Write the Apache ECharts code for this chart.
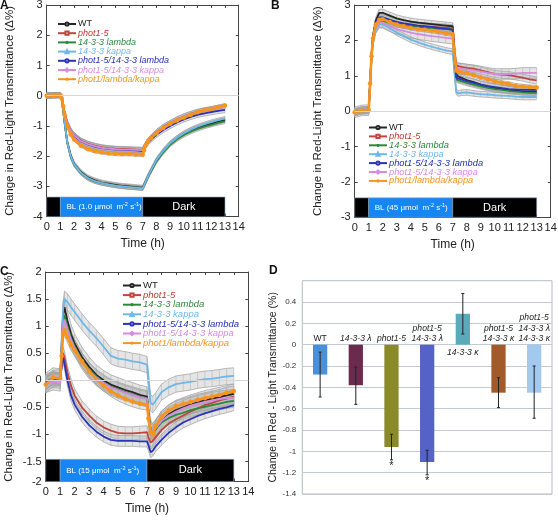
<!DOCTYPE html>
<html><head><meta charset="utf-8">
<script src="https://cdn.jsdelivr.net/npm/echarts@6/dist/echarts.min.js"></script>
<style>html,body{margin:0;padding:0;background:#fff}#c{width:558px;height:524px}</style>
</head><body><div id="c"></div>
<script>
// ---------- DATA ----------
const T = [0,0.5,1.0,1.1,1.2,1.3,1.5,1.75,2,2.5,3,3.5,4,4.5,5,5.5,6,6.5,7.0,7.1,7.25,7.4,7.6,8,8.5,9,9.5,10,10.5,11,11.5,12,12.5,13];
const seriesLabels = ['WT','phot1-5','14-3-3 lambda','14-3-3 kappa','phot1-5/14-3-3 lambda','phot1-5/14-3-3 kappa','phot1/lambda/kappa'];

// Panel A (BL 1.0)
const A_wt      = [0.00,0.02,0.02,-0.10,-0.45,-0.85,-1.52,-1.98,-2.25,-2.53,-2.70,-2.80,-2.87,-2.91,-2.95,-2.98,-3.00,-3.02,-3.04,-2.95,-2.80,-2.65,-2.48,-2.13,-1.83,-1.58,-1.40,-1.25,-1.14,-1.05,-0.98,-0.92,-0.86,-0.80];
const A_phot    = [0.00,0.01,0.02,-0.08,-0.30,-0.55,-0.90,-1.15,-1.30,-1.48,-1.58,-1.65,-1.70,-1.73,-1.75,-1.76,-1.77,-1.78,-1.79,-1.70,-1.58,-1.48,-1.38,-1.20,-1.03,-0.90,-0.78,-0.68,-0.60,-0.53,-0.48,-0.44,-0.40,-0.37];
const A_lam     = [0.00,0.02,0.02,-0.10,-0.47,-0.88,-1.56,-2.02,-2.28,-2.56,-2.73,-2.83,-2.89,-2.93,-2.97,-3.00,-3.02,-3.04,-3.06,-2.97,-2.82,-2.67,-2.50,-2.17,-1.87,-1.62,-1.44,-1.30,-1.19,-1.10,-1.02,-0.96,-0.90,-0.85];
const A_kap     = [0.05,0.02,0.02,-0.10,-0.46,-0.86,-1.54,-2.00,-2.26,-2.55,-2.72,-2.82,-2.88,-2.93,-2.97,-3.00,-3.02,-3.04,-3.06,-2.96,-2.81,-2.65,-2.47,-2.12,-1.82,-1.57,-1.39,-1.24,-1.12,-1.02,-0.94,-0.87,-0.81,-0.76];
const A_photLam = [0.00,0.01,0.02,-0.08,-0.31,-0.57,-0.93,-1.18,-1.33,-1.51,-1.61,-1.68,-1.73,-1.76,-1.78,-1.79,-1.80,-1.81,-1.83,-1.74,-1.63,-1.54,-1.45,-1.29,-1.13,-1.00,-0.88,-0.78,-0.70,-0.63,-0.58,-0.54,-0.50,-0.47];
const A_photKap = [0.00,0.01,0.02,-0.08,-0.30,-0.56,-0.91,-1.16,-1.31,-1.50,-1.60,-1.67,-1.72,-1.75,-1.77,-1.78,-1.78,-1.79,-1.80,-1.71,-1.59,-1.49,-1.39,-1.21,-1.04,-0.91,-0.79,-0.69,-0.61,-0.54,-0.49,-0.45,-0.41,-0.38];
const A_trip    = [0.00,0.01,0.02,-0.10,-0.35,-0.62,-1.00,-1.28,-1.45,-1.65,-1.76,-1.83,-1.87,-1.90,-1.92,-1.93,-1.93,-1.94,-1.95,-1.80,-1.62,-1.50,-1.40,-1.24,-1.07,-0.93,-0.82,-0.72,-0.63,-0.55,-0.48,-0.43,-0.37,-0.32];
const A_err = [0.08,0.08,0.07,0.07,0.09,0.09,0.06];
const A_yTicks = [-4,-3,-2,-1,0,1,2,3];
const A_yTickText = ['-4','-3','-2','-1','0','1','2','3'];

// Panel B (BL 45)
const B_wt      = [-0.03,0.02,0.03,0.80,1.60,2.10,2.55,2.78,2.78,2.70,2.62,2.57,2.53,2.50,2.48,2.46,2.44,2.42,2.40,1.80,1.05,0.98,0.95,0.88,0.82,0.75,0.70,0.66,0.63,0.60,0.58,0.56,0.55,0.55];
const B_phot    = [-0.03,0.02,0.03,0.78,1.55,2.05,2.45,2.62,2.62,2.55,2.50,2.46,2.43,2.41,2.39,2.38,2.37,2.36,2.34,1.90,1.30,1.27,1.25,1.22,1.20,1.15,1.10,1.05,1.03,1.02,0.98,0.95,0.90,0.87];
const B_lam     = [-0.03,0.02,0.03,0.78,1.52,2.00,2.40,2.55,2.55,2.50,2.45,2.42,2.40,2.38,2.36,2.35,2.33,2.32,2.30,1.60,0.90,0.87,0.85,0.80,0.75,0.70,0.66,0.62,0.60,0.57,0.55,0.53,0.52,0.52];
const B_kap     = [-0.03,0.02,0.03,0.75,1.45,1.95,2.30,2.45,2.45,2.35,2.22,2.12,2.02,1.95,1.88,1.82,1.77,1.72,1.68,1.20,0.55,0.50,0.52,0.53,0.50,0.48,0.47,0.45,0.44,0.43,0.41,0.40,0.40,0.40];
const B_photLam = [-0.03,0.02,0.03,0.80,1.58,2.08,2.50,2.65,2.65,2.58,2.52,2.48,2.45,2.42,2.40,2.38,2.35,2.33,2.30,1.65,0.95,0.92,0.90,0.85,0.80,0.75,0.71,0.68,0.65,0.62,0.61,0.60,0.60,0.60];
const B_photKap = [-0.03,0.02,0.03,0.76,1.50,1.98,2.35,2.50,2.50,2.40,2.32,2.27,2.22,2.18,2.15,2.12,2.10,2.07,2.05,1.65,1.22,1.20,1.20,1.18,1.15,1.12,1.08,1.05,1.05,1.05,1.06,1.08,1.08,1.08];
const B_trip    = [-0.03,0.02,0.03,0.78,1.55,2.05,2.45,2.58,2.60,2.52,2.45,2.40,2.35,2.32,2.30,2.27,2.24,2.20,2.17,1.70,1.15,1.12,1.10,1.08,1.02,0.95,0.90,0.85,0.80,0.77,0.72,0.70,0.68,0.67];
const B_err = [0.10,0.10,0.08,0.08,0.10,0.15,0.06];
const B_yTicks = [-3,-2,-1,0,1,2,3];
const B_yTickText = ['-3','-2','-1','0','1','2','3'];

// Panel C (BL 15)
const C_wt      = [-0.05,0.05,0.03,0.60,1.20,1.35,1.10,0.85,0.68,0.43,0.25,0.10,0.00,-0.08,-0.13,-0.18,-0.22,-0.27,-0.30,-0.60,-0.92,-0.98,-0.90,-0.75,-0.63,-0.55,-0.50,-0.45,-0.41,-0.37,-0.34,-0.31,-0.28,-0.25];
const C_phot    = [-0.05,0.04,0.02,0.30,0.50,0.42,0.15,-0.10,-0.28,-0.50,-0.65,-0.78,-0.87,-0.93,-0.97,-0.98,-0.98,-0.97,-0.96,-1.05,-1.15,-1.12,-1.05,-0.92,-0.80,-0.72,-0.65,-0.58,-0.52,-0.46,-0.42,-0.37,-0.34,-0.30];
const C_lam     = [-0.03,0.03,0.02,0.55,1.10,1.20,1.00,0.78,0.62,0.38,0.20,0.07,-0.04,-0.12,-0.17,-0.22,-0.26,-0.30,-0.33,-0.65,-0.92,-0.95,-0.90,-0.78,-0.70,-0.64,-0.60,-0.55,-0.52,-0.49,-0.46,-0.43,-0.40,-0.38];
const C_kap     = [-0.05,0.03,0.05,0.70,1.30,1.50,1.45,1.35,1.26,1.08,0.92,0.78,0.62,0.45,0.40,0.38,0.35,0.33,0.29,0.00,-0.42,-0.45,-0.38,-0.22,-0.13,-0.07,-0.05,-0.03,0.00,0.02,0.03,0.05,0.07,0.08];
const C_photLam = [-0.05,0.03,0.02,0.25,0.42,0.30,0.00,-0.28,-0.45,-0.67,-0.83,-0.95,-1.04,-1.10,-1.12,-1.12,-1.12,-1.13,-1.13,-1.20,-1.33,-1.30,-1.22,-1.10,-0.97,-0.87,-0.78,-0.72,-0.66,-0.61,-0.57,-0.53,-0.50,-0.46];
const C_photKap = [-0.08,-0.03,-0.05,0.50,1.00,1.12,0.95,0.75,0.60,0.36,0.18,0.05,-0.05,-0.13,-0.18,-0.23,-0.27,-0.31,-0.34,-0.65,-0.93,-0.95,-0.88,-0.75,-0.65,-0.58,-0.52,-0.47,-0.43,-0.40,-0.37,-0.35,-0.33,-0.32];
const C_trip    = [-0.08,0.05,0.03,0.45,0.85,0.93,0.80,0.65,0.55,0.35,0.16,0.02,-0.10,-0.20,-0.28,-0.34,-0.39,-0.43,-0.45,-0.70,-0.95,-1.00,-0.85,-0.67,-0.56,-0.48,-0.44,-0.40,-0.36,-0.33,-0.30,-0.27,-0.23,-0.20];
const C_err = [0.18,0.12,0.12,0.15,0.10,0.15,0.10];
const C_yTicks = [-1.87,-1.5,-1,-0.5,0,0.5,1,1.5,2];
const C_yTickText = ['-2','-1.5','-1','-0.5','0','0.5','1','1.5','2'];

// light schedule (h)
const lightStart = [0,1,7];
const lightEnd   = [1,7,13];
const lightKind  = [0,1,0];          // 0 = dark, 1 = blue light
const lightText  = ['','BL','Dark'];
const blIntensity = {A:'1.0', B:'45', C:'15'};

// Panel D
const dCats  = ['WT','14-3-3 λ','phot1-5','phot1-5\n14-3-3 λ','14-3-3 κ','phot1-5\n14-3-3 κ','phot1-5\n14-3-3 λ\n14-3-3 κ'];
const dVals  = [-0.28,-0.38,-0.96,-1.10,0.29,-0.45,-0.45];
const dErrLo = [-0.49,-0.56,-1.08,-1.22,0.10,-0.59,-0.69];
const dErrHi = [-0.07,-0.21,-0.84,-0.99,0.48,-0.31,-0.20];
const dSig   = [false,false,true,true,false,false,false];

// ---------- STYLE ----------
const FONT = '"Liberation Sans Narrow","Liberation Sans",Arial,sans-serif';
const LFONT = '"Liberation Sans",Arial,sans-serif';
const lineColors = ['#262626','#c0453f','#2a8a3a','#6db7ea','#2a34b8','#d58be0','#f7941d'];
const textColors = ['#1a1a1a','#c0392b','#2a8a3a','#6db7ea','#2230b0','#d58be0','#f39420'];
const symbols = ['emptyCircle','emptyRect','circle','emptyTriangle','emptyCircle','emptyDiamond','circle'];
const dColors = ['#4a90d9','#6b2b4f','#8b8a2a','#5562c6','#5aabb9','#a35a2a','#a3c9ee'];

const panels = [
  {id:'A', vals:[A_wt,A_phot,A_lam,A_kap,A_photLam,A_photKap,A_trip], err:A_err, ticks:A_yTicks, tickText:A_yTickText,
   grid:{left:46.7, top:5, width:192, height:211.7}, ymin:-4, ymax:3, barY:[-3.35,-4], legendPos:{left:57, top:19.5}, lfs:9.0, lgap:0.2},
  {id:'B', vals:[B_wt,B_phot,B_lam,B_kap,B_photLam,B_photKap,B_trip], err:B_err, ticks:B_yTicks, tickText:B_yTickText,
   grid:{left:354.7, top:5, width:196, height:212.3}, ymin:-3, ymax:3, barY:[-2.45,-3], legendPos:{left:368, top:123}, lfs:9.3, lgap:-0.1},
  {id:'C', vals:[C_wt,C_phot,C_lam,C_kap,C_photLam,C_photKap,C_trip], err:C_err, ticks:C_yTicks, tickText:C_yTickText,
   grid:{left:45.7, top:272, width:202.6, height:209.5}, ymin:-1.87, ymax:2, barY:[-1.46,-1.87], legendPos:{left:122, top:280.5}, lfs:9.5, lgap:-0.4}
];

const grids=[], xAxes=[], yAxes=[], series=[], legends=[];
const axisCol = '#444';

panels.forEach((p, pi) => {
  grids.push(Object.assign({show:false, containLabel:false, outerBoundsMode:'none'}, p.grid));
  const xi = xAxes.length, yi = yAxes.length;
  xAxes.push({gridIndex:pi, type:'value', min:0, max:14, interval:1, position:'bottom',
    axisLine:{onZero:false, lineStyle:{color:axisCol}}, axisTick:{inside:true, length:3, lineStyle:{color:axisCol}},
    axisLabel:{margin:5, fontSize:11, color:'#222', fontFamily:FONT}, splitLine:{show:false},
    name:'Time (h)', nameLocation:'middle', nameGap:21, nameTextStyle:{fontSize:12, color:'#222', fontFamily:FONT}});
  xAxes.push({gridIndex:pi, type:'value', min:0, max:14, interval:1, position:'top',
    axisLine:{onZero:false, lineStyle:{color:axisCol}}, axisTick:{inside:true, length:3, lineStyle:{color:axisCol}},
    axisLabel:{show:false}, splitLine:{show:false}});
  const fmt = v => { const k = p.ticks.findIndex(t => Math.abs(t - v) < 1e-6); return k >= 0 ? p.tickText[k] : ''; };
  yAxes.push({gridIndex:pi, type:'value', min:p.ymin, max:p.ymax, position:'left',
    axisLine:{onZero:false, lineStyle:{color:axisCol}},
    axisTick:{inside:true, length:3, lineStyle:{color:axisCol}, customValues:p.ticks},
    axisLabel:{customValues:p.ticks, formatter:fmt, margin:4, fontSize:11, color:'#222', fontFamily:FONT},
    splitLine:{show:false},
    name:'Change in Red-Light Transmittance (Δ%)', nameLocation:'middle', nameRotate:90, nameGap:31,
    nameTextStyle:{fontSize:11.5, color:'#222', fontFamily:FONT}});
  yAxes.push({gridIndex:pi, type:'value', min:p.ymin, max:p.ymax, position:'right',
    axisLine:{onZero:false, lineStyle:{color:axisCol}},
    axisTick:{inside:true, length:3, lineStyle:{color:axisCol}, customValues:p.ticks},
    axisLabel:{show:false}, splitLine:{show:false}});

  // error bands
  p.vals.forEach((v, k) => {
    const e = p.err[k];
    const data = T.slice(0, -1).map((t, i) => [t, v[i]-e, v[i]+e, T[i+1], v[i+1]-e, v[i+1]+e, i === T.length-2 ? 1 : 0]);
    series.push({type:'custom', xAxisIndex:xi, yAxisIndex:yi, z:1, silent:true, data,
      encode:{x:[0,3], y:[1,2,4,5]},
      renderItem:(params, api) => {
        const a = api.coord([api.value(0), api.value(1)]);
        const b = api.coord([api.value(0), api.value(2)]);
        const c = api.coord([api.value(3), api.value(5)]);
        const d = api.coord([api.value(3), api.value(4)]);
        const ch = [
          {type:'polygon', shape:{points:[a,b,c,d]}, style:{fill:'rgba(175,175,175,0.33)'}},
          {type:'line', shape:{x1:a[0],y1:a[1],x2:d[0],y2:d[1]}, style:{stroke:'#9c9c9c', lineWidth:0.7}},
          {type:'line', shape:{x1:b[0],y1:b[1],x2:c[0],y2:c[1]}, style:{stroke:'#9c9c9c', lineWidth:0.7}},
          {type:'line', shape:{x1:a[0],y1:a[1],x2:b[0],y2:b[1]}, style:{stroke:'#b4b4b4', lineWidth:0.6}}
        ];
        if (api.value(6) === 1) ch.push({type:'line', shape:{x1:c[0],y1:c[1],x2:d[0],y2:d[1]}, style:{stroke:'#b4b4b4', lineWidth:0.6}});
        return {type:'group', children:ch};
      }});
  });
  // lines
  p.vals.forEach((v, k) => {
    const isTrip = k === 6;
    const s = {type:'line', name:p.id + '|' + seriesLabels[k], xAxisIndex:xi, yAxisIndex:yi, z:3,
      data:T.map((t, i) => [t, v[i]]), symbol:symbols[k], symbolSize:isTrip ? 4.5 : 3,
      showSymbol:isTrip, animation:false,
      lineStyle:{color:lineColors[k], width:isTrip ? 2.6 : 1.8},
      itemStyle:{color:lineColors[k]}};
    if (k === 0) {
      s.markLine = {silent:true, symbol:'none', label:{show:false}, animation:false,
        lineStyle:{color:'#d6d6d6', width:1, type:'solid'}, data:[{yAxis:0}]};
    }
    series.push(s);
  });
  // light schedule bar
  series.push({type:'custom', xAxisIndex:xi, yAxisIndex:yi, z:6, silent:true,
    data:lightStart.map((s, i) => [s, lightEnd[i], lightKind[i], i]),
    encode:{x:[0,1]},
    renderItem:(params, api) => {
      const p0 = api.coord([api.value(0), p.barY[0]]);
      const p1 = api.coord([api.value(1), p.barY[1]]);
      const kind = api.value(2), idx = api.value(3);
      const ch = [{type:'rect', shape:{x:p0[0], y:p0[1], width:p1[0]-p0[0], height:p1[1]-p0[1]},
        style:{fill:kind === 1 ? '#1686f2' : '#000', stroke:'#8fa6c0', lineWidth:0.6}}];
      const cy = (p0[1] + p1[1]) / 2;
      if (lightText[idx] === 'BL') {
        ch.push({type:'text', x:p0[0] + 6, y:cy, style:{
          text:'{n|BL (' + blIntensity[p.id] + ' μmol  m}{s|-2}{n| s}{s|-1}{n|)}',
          align:'left', verticalAlign:'middle',
          rich:{n:{fontSize:8, lineHeight:10, fill:'#fff', fontFamily:FONT},
                s:{fontSize:5.5, lineHeight:5, fill:'#fff', fontFamily:FONT, verticalAlign:'top'}}}});
      } else if (lightText[idx]) {
        ch.push({type:'text', x:(p0[0] + p1[0]) / 2, y:cy, style:{text:lightText[idx], align:'center', verticalAlign:'middle',
          fill:'#fff', fontSize:11, fontFamily:FONT}});
      }
      return {type:'group', children:ch};
    }});

  legends.push({left:p.legendPos.left, top:p.legendPos.top, orient:'vertical', itemGap:p.lgap, itemWidth:18, itemHeight:4,
    padding:0, selectedMode:false,
    formatter:n => n.split('|')[1],
    textStyle:{fontFamily:LFONT, fontSize:p.lfs, lineHeight:9, padding:[0,0,0,-3]},
    data:seriesLabels.map((l, k) => ({name:p.id + '|' + l,
      textStyle:{color:textColors[k], fontStyle:k === 0 ? 'normal' : 'italic', fontFamily:LFONT, fontSize:p.lfs, lineHeight:9, padding:[0,0,0,-3]}}))});
});

// ----- Panel D -----
const dg = grids.length;
grids.push({left:302.3, top:280.7, width:249.7, height:213.3, show:true, borderColor:'#b4bcc6', borderWidth:1,
  containLabel:false, outerBoundsMode:'none'});
const dxi = xAxes.length, dyi = yAxes.length;
xAxes.push({gridIndex:dg, type:'category', data:dCats, axisLine:{show:false}, axisTick:{show:false}, axisLabel:{show:false}});
yAxes.push({gridIndex:dg, type:'value', min:-1.4, max:0.6, interval:0.2,
  axisLine:{show:false}, axisTick:{show:false},
  axisLabel:{showMaxLabel:false, fontSize:8, color:'#333', margin:6, fontFamily:FONT},
  splitLine:{lineStyle:{color:'#c3cad3', width:1}},
  name:'Change in Red - Light Transmittance (%)', nameLocation:'middle', nameRotate:90, nameGap:12,
  nameTextStyle:{fontSize:10.5, color:'#222', fontFamily:FONT}});
series.push({type:'bar', xAxisIndex:dxi, yAxisIndex:dyi, barWidth:'40%', z:2, animation:false,
  data:dVals.map((v, i) => ({value:v, itemStyle:{color:dColors[i]}}))});
series.push({type:'custom', xAxisIndex:dxi, yAxisIndex:dyi, z:4, silent:true,
  data:dVals.map((v, i) => [i, dErrLo[i], dErrHi[i]]), encode:{x:0, y:[1,2]},
  renderItem:(params, api) => {
    const lo = api.coord([api.value(0), api.value(1)]);
    const hi = api.coord([api.value(0), api.value(2)]);
    const st = {stroke:'#222', lineWidth:1};
    return {type:'group', children:[
      {type:'line', shape:{x1:lo[0], y1:lo[1], x2:hi[0], y2:hi[1]}, style:st},
      {type:'line', shape:{x1:lo[0]-1.5, y1:lo[1], x2:lo[0]+1.5, y2:lo[1]}, style:st},
      {type:'line', shape:{x1:hi[0]-1.5, y1:hi[1], x2:hi[0]+1.5, y2:hi[1]}, style:st}]};
  }});
series.push({type:'custom', xAxisIndex:dxi, yAxisIndex:dyi, z:4, silent:true,
  data:dVals.map((v, i) => [i, v]), encode:{x:0, y:1},
  renderItem:(params, api) => {
    const i = api.value(0), v = api.value(1);
    const z = api.coord([i, 0]);
    return {type:'text', x:z[0], y:v < 0 ? z[1] - 1 : z[1] + 3, style:{text:dCats[i], align:'center',
      verticalAlign:v < 0 ? 'bottom' : 'top', fill:'#222', fontSize:8.6, lineHeight:10.3,
      fontStyle:i === 0 ? 'normal' : 'italic', fontFamily:FONT}};
  }});
series.push({type:'custom', xAxisIndex:dxi, yAxisIndex:dyi, z:4, silent:true,
  data:dVals.map((v, i) => [i, dErrLo[i], dSig[i] ? 1 : 0]), encode:{x:0, y:1},
  renderItem:(params, api) => {
    if (!api.value(2)) return null;
    const c = api.coord([api.value(0), api.value(1)]);
    return {type:'text', x:c[0], y:c[1] + 1, style:{text:'*', align:'center', verticalAlign:'top', fill:'#222',
      fontSize:11, fontFamily:FONT}};
  }});

const letterStyle = {font:'bold 12px "Liberation Sans",Arial,sans-serif', fill:'#111'};
const option = {
  animation:false,
  backgroundColor:'#fff',
  grid:grids, xAxis:xAxes, yAxis:yAxes, legend:legends, series,
  graphic:[
    {type:'text', left:0, top:0, style:Object.assign({text:'A'}, letterStyle)},
    {type:'text', left:271, top:0, style:Object.assign({text:'B'}, letterStyle)},
    {type:'text', left:0, top:266, style:Object.assign({text:'C'}, letterStyle)},
    {type:'text', left:269, top:265, style:Object.assign({text:'D'}, letterStyle)}
  ]
};
const chart = echarts.init(document.getElementById('c'), null, {renderer:'canvas'});
chart.setOption(option);
</script>
</body></html>
